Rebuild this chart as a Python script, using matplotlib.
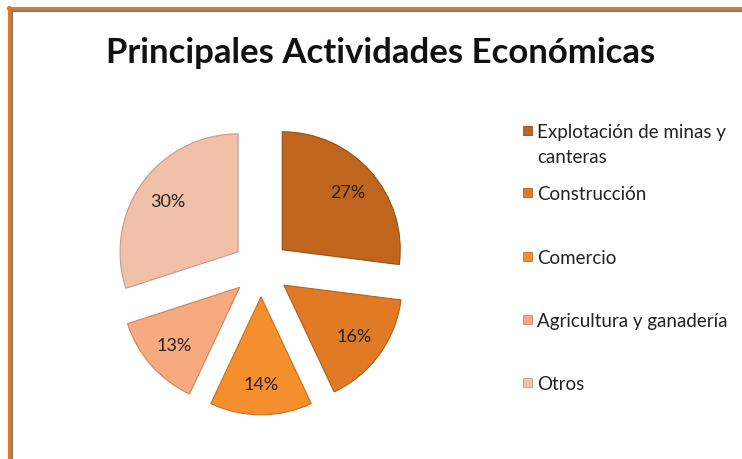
import matplotlib
matplotlib.use("Agg")
import matplotlib.pyplot as plt
from matplotlib.patches import Rectangle
from matplotlib.lines import Line2D

title = "Principales Actividades Económicas"
categories = ["Explotación de minas y\ncanteras", "Construcción", "Comercio",
              "Agricultura y ganadería", "Otros"]
values = [27, 16, 14, 13, 30]
colors = ["#C0651E", "#E07A24", "#F58E2C", "#F7A980", "#F1C0A8"]
edge_colors = ["#9A4E14", "#B55F18", "#C8701F", "#C98463", "#C89A85"]

W, H = 742, 460
fig = plt.figure(figsize=(W / 100, H / 100), dpi=100)
plt.rcParams['font.family'] = ['Lato', 'DejaVu Sans']

# frame lines (orange outer, gray inner)
fig.add_artist(Line2D([8 / W, 1], [1 - 8.5 / H, 1 - 8.5 / H], color="#E87722", lw=2.2))
fig.add_artist(Line2D([8.5 / W, 8.5 / W], [0, 1 - 8 / H], color="#E87722", lw=2.2))
fig.add_artist(Line2D([12 / W, 1], [1 - 11.5 / H, 1 - 11.5 / H], color="#7F7F7F", lw=1.6))
fig.add_artist(Line2D([12 / W, 12 / W], [0, 1 - 11 / H], color="#7F7F7F", lw=1.6))

# pie axes: 118 px per data unit, center at (261, 269.5) px
scale = 118.0
x0, x1, yt, yb = 40, 480, 100, 440
cx, cy = 261, 269.5
ax = fig.add_axes([x0 / W, 1 - yb / H, (x1 - x0) / W, (yb - yt) / H])
wedges, texts, autotexts = ax.pie(
    values, colors=colors, startangle=90, counterclock=False,
    explode=[0.24] * len(values), autopct='%1.0f%%', pctdistance=0.74,
    wedgeprops=dict(linewidth=0.8),
    textprops=dict(fontsize=13, color="#222222"))
for w, ec in zip(wedges, edge_colors):
    w.set_edgecolor(ec)
ax.set_xlim((x0 - cx) / scale, (x1 - cx) / scale)
ax.set_ylim((cy - yb) / scale, (cy - yt) / scale)
ax.set_aspect('auto')
ax.axis('off')

fig.text(381 / W, 1 - 53 / H, title, ha='center', va='center',
         fontsize=25, fontweight='bold', color="#111111")

# legend
leg_y = [131, 193, 257, 320, 383]
for lab, col, ec, y in zip(categories, colors, edge_colors, leg_y):
    fig.add_artist(Rectangle(((523) / W, 1 - (y + 5) / H), 9 / W, 9 / H,
                             facecolor=col, edgecolor=ec, lw=0.6,
                             transform=fig.transFigure))
    fig.text(537 / W, 1 - (y - 7) / H, lab, ha='left', va='top',
             fontsize=13.5, color="#222222", linespacing=1.6)

fig.savefig("out.png", dpi=100)
